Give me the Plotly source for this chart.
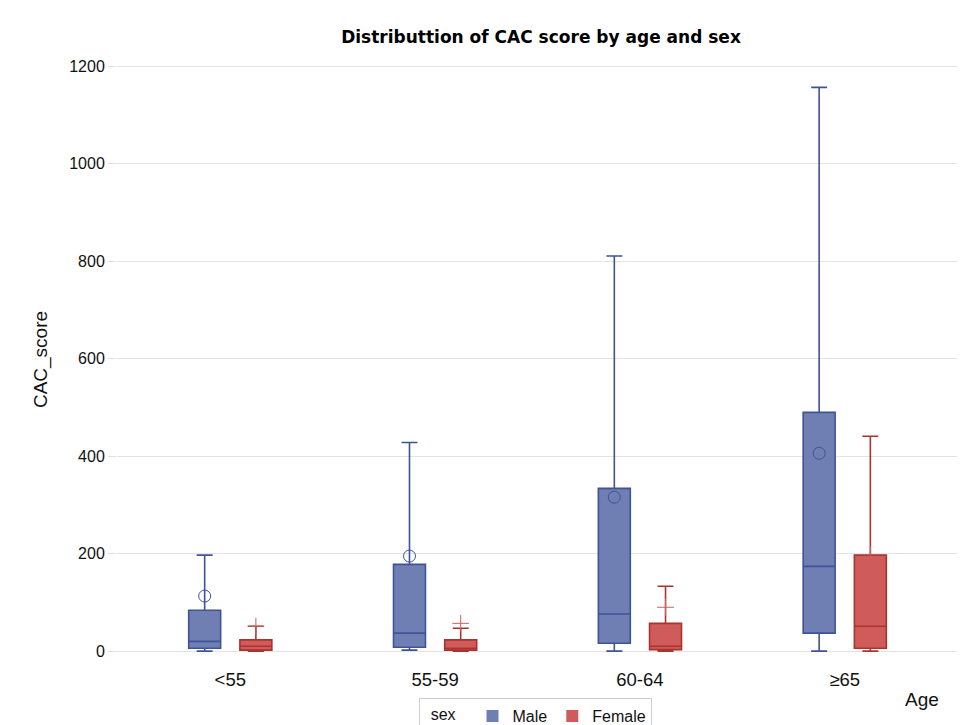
import plotly.graph_objects as go

age_groups = ["<55", "55-59", "60-64", "≥65"]

male_lower = [0, 2, 0, 0]
male_q1 = [6, 8, 16, 37]
male_median = [20, 37, 76, 174]
male_q3 = [84, 178, 334, 490]
male_upper = [197, 428, 811, 1157]
male_mean = [113, 195, 316, 406]

female_lower = [0, 0, 0, 0]
female_q1 = [2, 2, 3, 6]
female_median = [10, 6, 10, 51]
female_q3 = [23, 23, 57, 197]
female_upper = [51, 47, 133, 441]
female_mean = [51, 57, 90, 198]

y_ticks = [0, 200, 400, 600, 800, 1000, 1200]

MALE_FILL, MALE_LINE = "#6F7EB3", "#3F5398"
FEMALE_FILL, FEMALE_LINE = "#D05B5B", "#A8342E"

off = 0.125
idx = list(range(len(age_groups)))
xm = [i - off for i in idx]
xf = [i + off for i in idx]

fig = go.Figure()
fig.add_trace(go.Box(
    x=xm, q1=male_q1, median=male_median, q3=male_q3,
    lowerfence=male_lower, upperfence=male_upper,
    width=0.156, whiskerwidth=0.5,
    fillcolor=MALE_FILL, line=dict(color=MALE_LINE, width=1.6),
    boxpoints=False, showlegend=False, name="Male"))
fig.add_trace(go.Box(
    x=xf, q1=female_q1, median=female_median, q3=female_q3,
    lowerfence=female_lower, upperfence=female_upper,
    width=0.156, whiskerwidth=0.5,
    fillcolor=FEMALE_FILL, line=dict(color=FEMALE_LINE, width=1.6),
    boxpoints=False, showlegend=False, name="Female"))
fig.add_trace(go.Scatter(
    x=xm, y=male_mean, mode="markers", showlegend=False,
    marker=dict(symbol="circle-open", size=12, color=MALE_LINE, line=dict(width=1))))
fig.add_trace(go.Scatter(
    x=xf, y=female_mean, mode="markers", showlegend=False,
    marker=dict(symbol="cross-thin-open", size=12, color="#C8605C", line=dict(width=1))))

# legend entries
fig.add_trace(go.Scatter(x=[None], y=[None], mode="markers", name="Male",
                         marker=dict(symbol="square", size=12, color=MALE_FILL)))
fig.add_trace(go.Scatter(x=[None], y=[None], mode="markers", name="Female",
                         marker=dict(symbol="square", size=12, color=FEMALE_FILL)))

fig.update_layout(
    width=963, height=717,
    margin=dict(l=109, r=14, t=56, b=70, autoexpand=False),
    paper_bgcolor="white", plot_bgcolor="white",
    font=dict(family="Liberation Sans, Arial, sans-serif", color="#111111", size=16),
    title=dict(text="<b>Distributtion of CAC score by age and sex</b>",
               x=0.5535, xanchor="center", y=1 - 29 / 717, yanchor="middle",
               font=dict(family="DejaVu Sans, sans-serif", size=17, color="#000000")),
    showlegend=True,
    legend=dict(orientation="h", x=0.498, xanchor="center", y=-0.073, yanchor="top",
                bordercolor="#CCCCCC", borderwidth=1, bgcolor="white",
                title=dict(text="  sex  ", font=dict(size=16)),
                font=dict(size=16), itemwidth=30, tracegroupgap=0),
    boxmode="overlay",
)
fig.update_xaxes(
    range=[-0.553, 3.548], tickmode="array", tickvals=idx, ticktext=age_groups,
    showgrid=False, zeroline=False, showline=False,
    ticks="outside", ticklen=8, tickcolor="rgba(0,0,0,0)",
    tickfont=dict(size=18.5))
fig.update_yaxes(
    range=[-8, 1205], tickvals=y_ticks,
    showgrid=True, gridcolor="#E3E3E3", gridwidth=1, zeroline=False, showline=False,
    ticks="outside", ticklen=8, tickcolor="#E0E0E0",
    title=dict(text="CAC_score", font=dict(size=19), standoff=16),
    tickfont=dict(size=16))
fig.add_annotation(text="Age", xref="paper", yref="paper", x=0.958, y=-0.076,
                   xanchor="center", yanchor="middle", showarrow=False,
                   font=dict(size=19))

fig.write_html("out.html")
